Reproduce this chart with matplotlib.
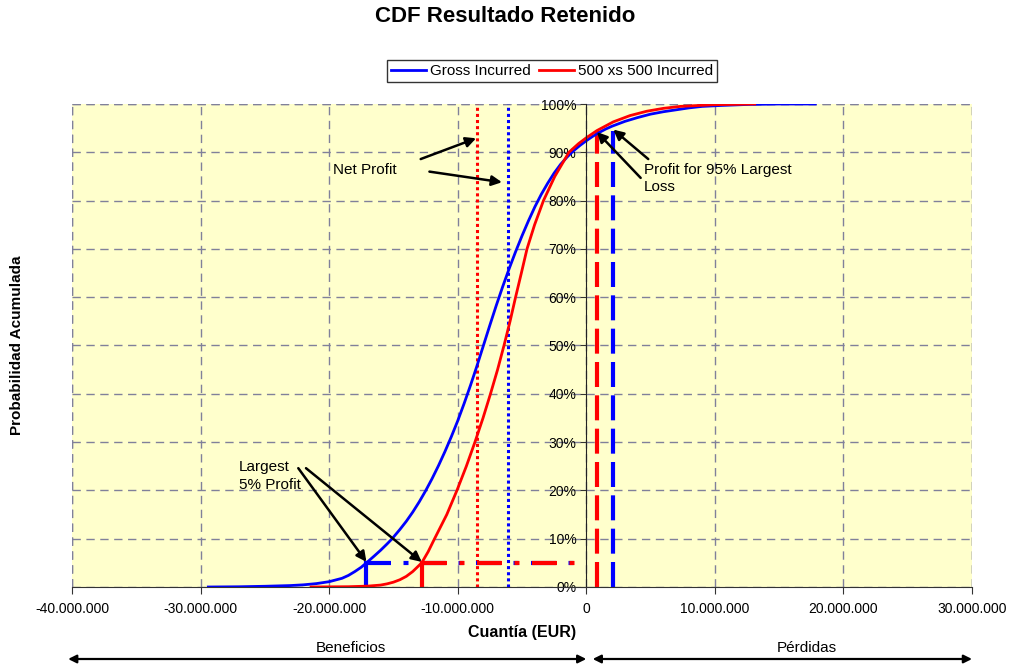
import matplotlib
matplotlib.use("Agg")
import matplotlib.pyplot as plt
import matplotlib.ticker as ticker

plt.rcParams["font.family"] = ["Liberation Sans", "DejaVu Sans"]

# Curvas CDF (EUR, probabilidad acumulada)
gross_x = [-29.4e6, -27.0e6, -25.0e6, -23.0e6, -22.0e6, -21.0e6, -20.0e6, -19.0e6,
           -18.5e6, -18.0e6, -17.5e6, -17.1e6, -16.5e6, -16.0e6, -15.5e6, -15.1e6,
           -14.5e6, -14.0e6, -13.5e6, -13.0e6, -12.5e6, -12.0e6, -11.5e6, -11.0e6,
           -10.5e6, -10.0e6, -9.5e6, -9.0e6, -8.5e6, -8.0e6, -7.5e6, -7.0e6,
           -6.5e6, -6.0e6, -5.5e6, -5.0e6, -4.5e6, -4.0e6, -3.5e6, -3.0e6,
           -2.5e6, -2.0e6, -1.5e6, -1.0e6, -0.5e6, 0.0, 0.5e6, 1.0e6, 1.5e6,
           2.0e6, 3.0e6, 4.0e6, 5.0e6, 6.0e6, 7.0e6, 8.0e6, 9.0e6, 10.5e6,
           12.5e6, 15.0e6, 17.8e6]
gross_p = [0.0, 0.0005, 0.0015, 0.003, 0.0045, 0.007, 0.011, 0.018,
           0.024, 0.032, 0.041, 0.050, 0.064, 0.076, 0.089, 0.100,
           0.119, 0.136, 0.155, 0.176, 0.199, 0.224, 0.251, 0.280,
           0.311, 0.344, 0.380, 0.418, 0.458, 0.500, 0.542, 0.583,
           0.622, 0.659, 0.694, 0.727, 0.758, 0.787, 0.813, 0.836,
           0.857, 0.875, 0.890, 0.903, 0.914, 0.924, 0.933, 0.941, 0.948,
           0.954, 0.964, 0.972, 0.979, 0.984, 0.988, 0.992, 0.995, 0.997,
           0.999, 1.0, 1.0]

ret_x = [-21.4e6, -18.5e6, -17.0e6, -16.0e6, -15.5e6, -15.0e6, -14.5e6, -14.0e6,
         -13.5e6, -12.8e6, -12.3e6, -11.8e6, -10.85e6, -10.06e6, -9.33e6, -8.66e6,
         -8.03e6, -7.45e6, -6.9e6, -6.4e6, -5.93e6, -5.5e6, -5.05e6, -4.61e6,
         -4.02e6, -3.33e6, -2.45e6, -1.35e6, -0.6e6, 0.0, 0.83e6, 2.1e6,
         3.4e6, 4.7e6, 6.0e6, 7.3e6, 9.9e6, 13.1e6]
ret_p = [0.0, 0.0006, 0.0018, 0.004, 0.0065, 0.010, 0.015, 0.022,
         0.032, 0.050, 0.073, 0.100, 0.150, 0.200, 0.250, 0.300,
         0.350, 0.400, 0.450, 0.500, 0.550, 0.600, 0.650, 0.700,
         0.750, 0.800, 0.850, 0.900, 0.918, 0.930, 0.945, 0.963,
         0.976, 0.985, 0.991, 0.995, 0.9985, 1.0]

# Valores de referencia
mean_gross = -6.06e6
mean_ret = -8.47e6
p5_gross = -17.1e6
p5_ret = -12.8e6
p95_gross = 2.1e6
p95_ret = 0.83e6
level_low = 0.05
level_high = 0.945

blue = "#0000FF"
red = "#FF0000"

fig = plt.figure(figsize=(10.1, 6.69), dpi=100)
ax = fig.add_axes([72 / 1010, 1 - 587 / 669, 900 / 1010, 483 / 669])
ax.set_facecolor("#FFFFCC")

# Lineas de referencia
ax.plot([mean_ret, mean_ret], [0, 1], color=red, lw=2.2, linestyle=(0, (1, 1)))
ax.plot([mean_gross, mean_gross], [0, 1], color=blue, lw=2.2, linestyle=(0, (1, 1)))
ax.plot([p5_gross, 0], [level_low, level_low], color=blue, lw=3, linestyle=(0, (6, 3, 1.2, 3)))
ax.plot([p5_ret, 0], [level_low, level_low], color=red, lw=3, linestyle=(0, (6, 3, 1.2, 3)))
ax.plot([p5_gross, p5_gross], [0, level_low], color=blue, lw=3)
ax.plot([p5_ret, p5_ret], [0, level_low], color=red, lw=3)
ax.plot([p95_ret, p95_ret], [0, level_high], color=red, lw=3, linestyle=(0, (6, 2)))
ax.plot([p95_gross, p95_gross], [0, level_high], color=blue, lw=3, linestyle=(0, (6, 2)))

# Curvas
l1, = ax.plot(gross_x, gross_p, color=blue, lw=2, label="Gross Incurred",
              solid_joinstyle="round")
l2, = ax.plot(ret_x, ret_p, color=red, lw=2, label="500 xs 500 Incurred",
              solid_joinstyle="round")

ax.set_xlim(-40e6, 30e6)
ax.set_ylim(0, 1)

ax.xaxis.set_major_locator(ticker.MultipleLocator(10e6))
ax.xaxis.set_major_formatter(ticker.FuncFormatter(lambda v, p: f"{v:,.0f}".replace(",", ".")))
ax.yaxis.set_major_locator(ticker.MultipleLocator(0.1))
ax.yaxis.set_major_formatter(ticker.FuncFormatter(lambda v, p: f"{v:.0%}"))

ax.spines["left"].set_position(("data", 0))
ax.spines["left"].set_color("#222222")
ax.spines["bottom"].set_color("#333333")
ax.spines["top"].set_visible(False)
ax.spines["right"].set_visible(False)
ax.tick_params(axis="x", labelsize=10, length=5, pad=6, color="#333333")
ax.tick_params(axis="y", labelsize=10, length=4, pad=3, color="#333333")

ax.grid(True, color="#80809A", lw=1, linestyle=(0, (6, 4)))
ax.set_axisbelow(True)
for v in [-40e6, 30e6]:
    ax.axvline(v, color="#80809A", lw=1, linestyle=(0, (6, 4)), zorder=0.5)
ax.axhline(1, color="#80809A", lw=1, linestyle=(0, (6, 4)), zorder=0.5)

# Anotaciones
arrow = dict(arrowstyle="-|>", color="black", lw=1.8, mutation_scale=15, shrinkA=0, shrinkB=0)
ax.text(-19.7e6, 0.863, "Net Profit", fontsize=11, ha="left", va="center")
ax.annotate("", xy=(mean_ret - 0.1e6, 0.929), xytext=(-12.88e6, 0.886), arrowprops=arrow)
ax.annotate("", xy=(mean_gross - 0.5e6, 0.838), xytext=(-12.2e6, 0.860), arrowprops=arrow)

ax.text(4.48e6, 0.878, "Profit for 95% Largest\nLoss", fontsize=11, ha="left", va="top",
        linespacing=1.3)
ax.annotate("", xy=(p95_ret, level_high - 0.003), xytext=(4.23e6, 0.847), arrowprops=arrow)
ax.annotate("", xy=(p95_gross, level_high + 0.002), xytext=(4.82e6, 0.886), arrowprops=arrow)

ax.text(-27.0e6, 0.262, "Largest\n5% Profit", fontsize=11, ha="left", va="top",
        linespacing=1.3)
ax.annotate("", xy=(p5_gross, level_low + 0.002), xytext=(-22.4e6, 0.246), arrowprops=arrow)
ax.annotate("", xy=(p5_ret, level_low + 0.002), xytext=(-21.8e6, 0.246), arrowprops=arrow)

# Titulos
fig.text(0.5, 1 - 17 / 669, "CDF Resultado Retenido", fontsize=16, fontweight="bold",
         ha="center", va="center")
fig.text(17 / 1010, 1 - 345 / 669, "Probabilidad Acumulada", fontsize=11, fontweight="bold",
         rotation=90, ha="center", va="center")
fig.text(522 / 1010, 1 - 633 / 669, "Cuantía (EUR)", fontsize=11.5, fontweight="bold",
         ha="center", va="center")
fig.text(351 / 1010, 1 - 648 / 669, "Beneficios", fontsize=11, ha="center", va="center")
fig.text(807 / 1010, 1 - 648 / 669, "Pérdidas", fontsize=11, ha="center", va="center")

both = dict(arrowstyle="<|-|>", color="black", lw=1.6, mutation_scale=12, shrinkA=0, shrinkB=0)
ax.annotate("", xy=(-40.3e6, 10), xytext=(0.0, 10), xycoords=("data", "figure pixels"),
            textcoords=("data", "figure pixels"), arrowprops=both, annotation_clip=False)
ax.annotate("", xy=(0.5e6, 10), xytext=(30.0e6, 10), xycoords=("data", "figure pixels"),
            textcoords=("data", "figure pixels"), arrowprops=both, annotation_clip=False)

leg = fig.legend(handles=[l1, l2], loc="center", bbox_to_anchor=(552 / 1010, 1 - 71 / 669),
                 ncol=2, fontsize=11, frameon=True, fancybox=False, edgecolor="black",
                 handlelength=2.3, handletextpad=0.3, columnspacing=0.5, borderpad=0.25,
                 borderaxespad=0)
leg.get_frame().set_linewidth(1.0)

fig.savefig("out.png", dpi=100)
